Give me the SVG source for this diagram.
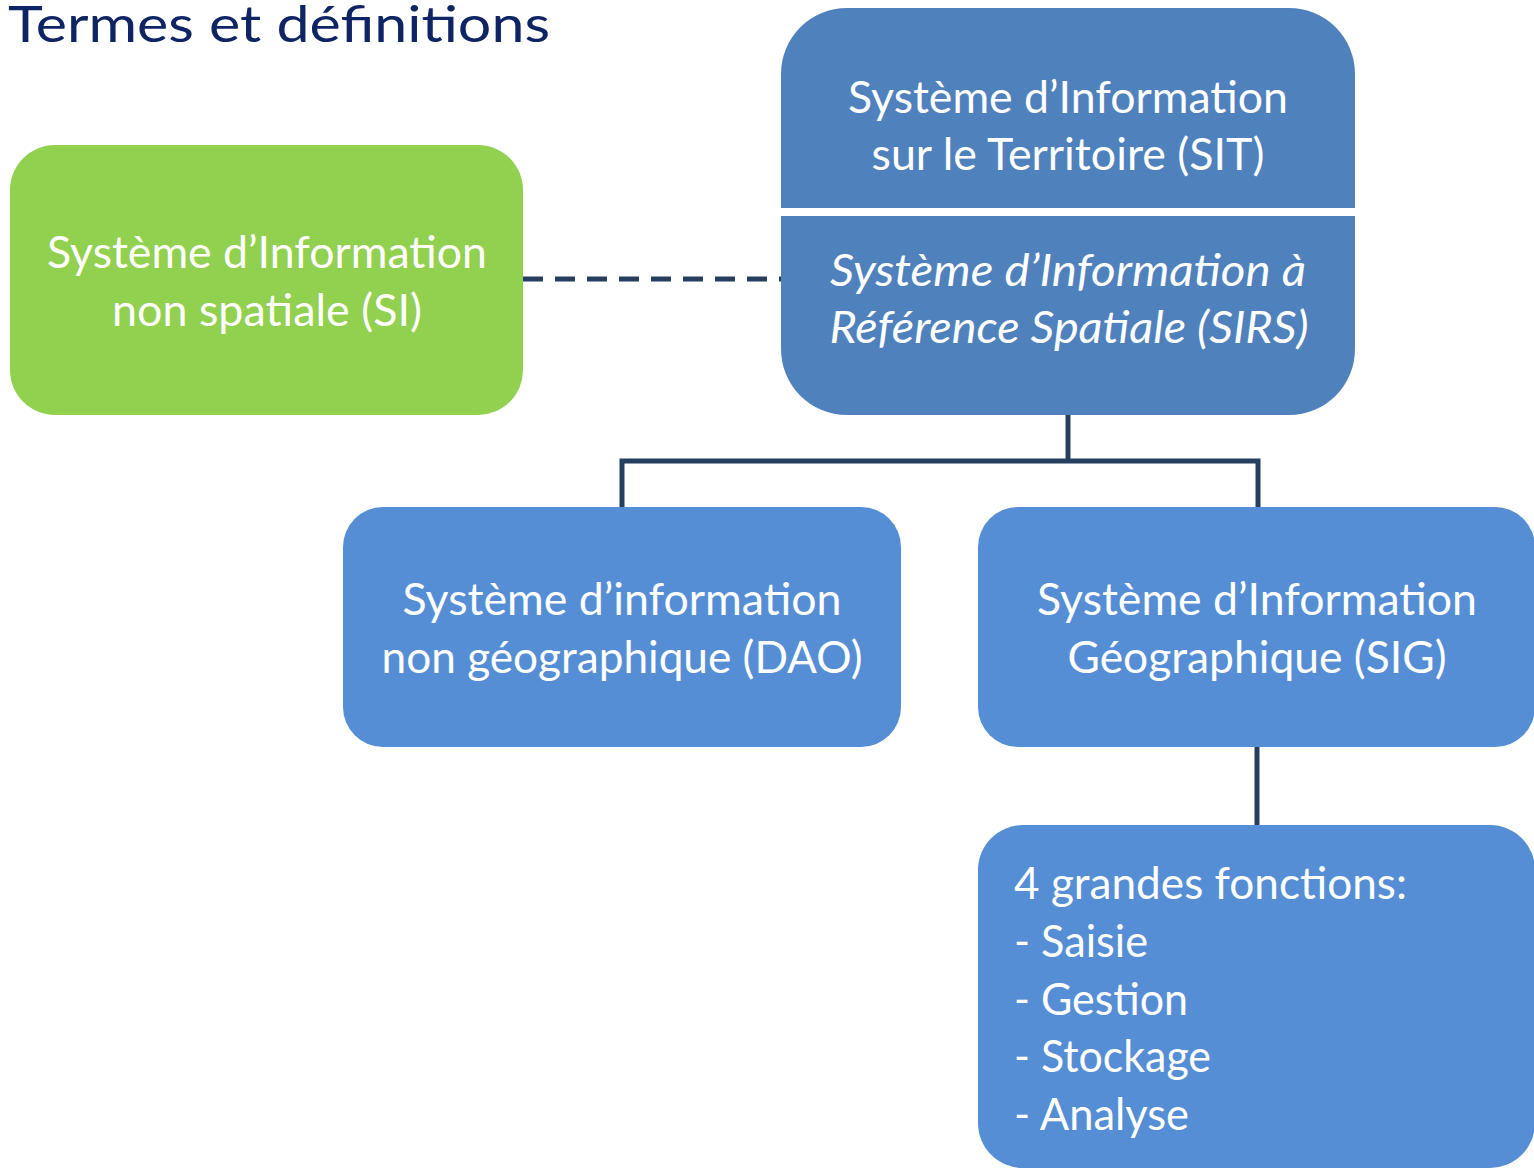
<svg xmlns="http://www.w3.org/2000/svg" width="1534" height="1168" viewBox="0 0 1534 1168">
<style>
.t{font-family:Lato,"Open Sans","Liberation Sans",sans-serif;fill:#fff;font-size:45px}
.c{text-anchor:middle}
.i{font-style:italic}
.ln{fill:none;stroke:#243F60;stroke-width:5}
</style>
<rect width="1534" height="1168" fill="#fff"/>
<text x="8" y="42" style="font-family:Lato,'Open Sans','Liberation Sans',sans-serif;font-size:51px;fill:#0E2463" textLength="542" lengthAdjust="spacingAndGlyphs">Termes et définitions</text>
<g id="connectors">
<line class="ln" x1="523" y1="279" x2="781" y2="279" stroke-dasharray="20,12"/>
<polyline class="ln" points="1068,415 1068,461"/>
<polyline class="ln" points="622,507 622,461 1258,461 1258,507"/>
<line class="ln" x1="1257" y1="747" x2="1257" y2="825"/>
</g>
<g id="sit">
<rect x="781" y="8" width="574" height="407" rx="66" fill="#4F81BD"/>
<rect x="781" y="208" width="574" height="8" fill="#fff"/>
<text class="t c" x="1068" y="113" textLength="440" lengthAdjust="spacingAndGlyphs">Système d’Information</text>
<text class="t c" x="1068" y="170" textLength="393" lengthAdjust="spacingAndGlyphs">sur le Territoire (SIT)</text>
<text class="t c i" x="1068" y="286" textLength="476" lengthAdjust="spacingAndGlyphs">Système d’Information à</text>
<text class="t c i" x="1069" y="343" textLength="479" lengthAdjust="spacingAndGlyphs">Référence Spatiale (SIRS)</text>
</g>
<g id="si">
<rect x="10" y="145" width="513" height="270" rx="45" fill="#92D050"/>
<text class="t c" x="267" y="268" textLength="440" lengthAdjust="spacingAndGlyphs">Système d’Information</text>
<text class="t c" x="267" y="326" textLength="310" lengthAdjust="spacingAndGlyphs">non spatiale (SI)</text>
</g>
<g id="dao">
<rect x="343" y="507" width="558" height="240" rx="40" fill="#558ED5"/>
<text class="t c" x="622" y="615" textLength="439" lengthAdjust="spacingAndGlyphs">Système d’information</text>
<text class="t c" x="622" y="673" textLength="481" lengthAdjust="spacingAndGlyphs">non géographique (DAO)</text>
</g>
<g id="sig">
<rect x="978" y="507" width="557" height="240" rx="40" fill="#558ED5"/>
<text class="t c" x="1257" y="615" textLength="440" lengthAdjust="spacingAndGlyphs">Système d’Information</text>
<text class="t c" x="1257" y="673" textLength="379" lengthAdjust="spacingAndGlyphs">Géographique (SIG)</text>
</g>
<g id="fonctions">
<rect x="978" y="825" width="557" height="343" rx="45" fill="#558ED5"/>
<text class="t" x="1014" y="899" textLength="393" lengthAdjust="spacingAndGlyphs">4 grandes fonctions:</text>
<text class="t" x="1014" y="957" textLength="134" lengthAdjust="spacingAndGlyphs">- Saisie</text>
<text class="t" x="1014" y="1015" textLength="174" lengthAdjust="spacingAndGlyphs">- Gestion</text>
<text class="t" x="1014" y="1072" textLength="197" lengthAdjust="spacingAndGlyphs">- Stockage</text>
<text class="t" x="1014" y="1130" textLength="175" lengthAdjust="spacingAndGlyphs">- Analyse</text>
</g>
</svg>
